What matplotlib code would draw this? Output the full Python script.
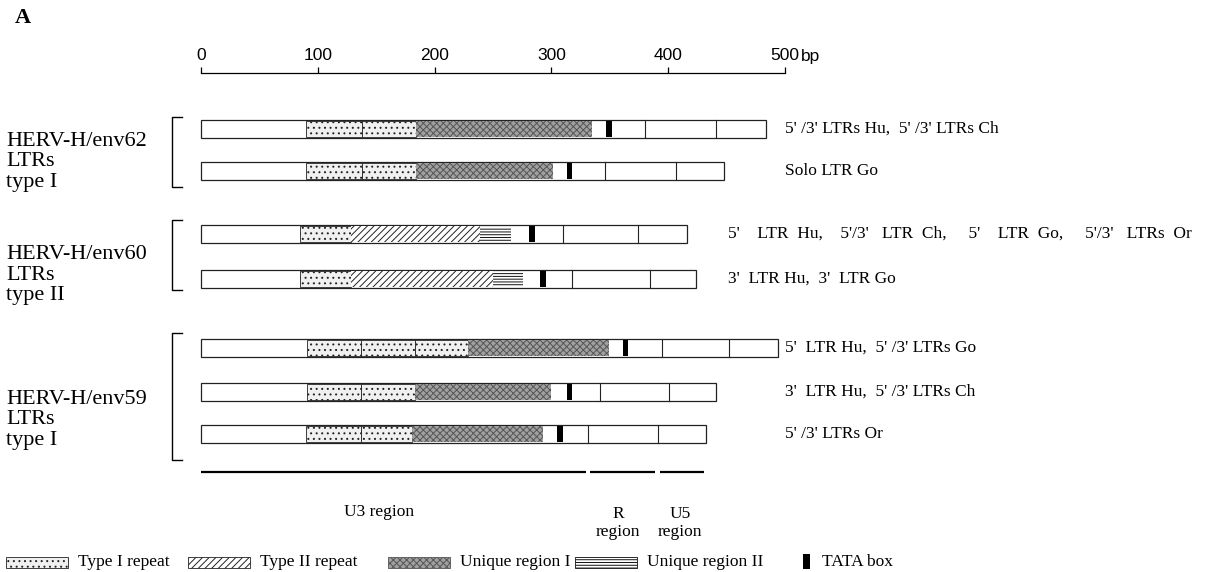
import matplotlib.pyplot as plt
from matplotlib.patches import Rectangle

plt.rcParams['hatch.linewidth'] = 0.7
SERIF = 'Liberation Serif'
SANS = 'Liberation Sans'

# ---- data (bp) ----
ruler_ticks = [0, 100, 200, 300, 400, 500]
ruler_labels = ['0', '100', '200', '300', '400', '500']

row_names = ["5' /3' LTRs Hu,  5' /3' LTRs Ch",
             "Solo LTR Go",
             "5'    LTR  Hu,    5'/3'   LTR  Ch,     5'    LTR  Go,     5'/3'   LTRs  Or",
             "3'  LTR Hu,  3'  LTR Go",
             "5'  LTR Hu,  5' /3' LTRs Go",
             "3'  LTR Hu,  5' /3' LTRs Ch",
             "5' /3' LTRs Or"]
# type I repeat unit boundaries
rep1 = [[90, 138, 184], [90, 138, 184], [85, 128], [85, 128],
        [91, 137, 183, 229], [91, 137, 183], [90, 137, 181]]
# type II repeat (start, end)
rep2 = [None, None, (128, 239), (128, 250), None, None, None]
# unique region I (start, end)
uniq1 = [(184, 335), (184, 301), None, None, (229, 349), (183, 300), (181, 293)]
# unique region II (start, end)
uniq2 = [None, None, (239, 265), (250, 276), None, None, None]
tata = [347, 313, 281, 290, 361, 313, 305]
u3_end = [380, 346, 310, 318, 395, 342, 331]
r_end = [441, 407, 374, 384, 452, 401, 391]
ltr_end = [484, 448, 416, 424, 494, 441, 432]

groups = ["HERV-H/env62\nLTRs\ntype I",
          "HERV-H/env60\nLTRs\ntype II",
          "HERV-H/env59\nLTRs\ntype I"]
regions = ['U3 region', 'R\nregion', 'U5\nregion']
region_spans = [(0, 330), (333, 389), (393, 431)]

legend_names = ['Type I repeat', 'Type II repeat', 'Unique region I',
                'Unique region II', 'TATA box']

# ---- layout (pixels) ----
W, H = 1225, 572
row_y = [129, 171, 234, 279, 348, 392, 434]
bar_h = 18
label_px = [785, 785, 728, 728, 785, 785, 785]
group_y = [162, 275, 420]
bracket_y = [(117, 187), (220, 290), (333, 460)]
region_label_px = [379, 618, 680]

styles = {
    'rep1': dict(facecolor='#f0f0f0', edgecolor='#222222', hatch='...'),
    'rep2': dict(facecolor='white', edgecolor='#222222', hatch='/////'),
    'uniq1': dict(facecolor='#a0a0a0', edgecolor='#555555', hatch='xxxxx'),
    'uniq2': dict(facecolor='white', edgecolor='#111111', hatch='------'),
    'tata': dict(facecolor='black', edgecolor='black'),
}

fig = plt.figure(figsize=(W / 100, H / 100), dpi=100)
X0, X500 = 201, 785
ax = fig.add_axes([X0 / W, 0, (X500 - X0) / W, 1])
ax.set_xlim(0, 500)
ax.set_ylim(H, 0)
ax.axis('off')


def bp(px):
    return (px - X0) * 500 / (X500 - X0)


def box(x1, x2, y, h, **kw):
    ax.add_patch(Rectangle((x1, y - h / 2), x2 - x1, h, clip_on=False, **kw))


# ruler
rax = fig.add_axes([X0 / W, 1 - 73 / H, (X500 - X0) / W, 1e-4])
rax.set_xlim(0, 500)
for s in ['left', 'right', 'bottom']:
    rax.spines[s].set_visible(False)
rax.spines['top'].set_linewidth(0.9)
rax.yaxis.set_visible(False)
rax.xaxis.set_ticks_position('top')
rax.set_xticks(ruler_ticks)
rax.set_xticklabels(ruler_labels, fontsize=12.5, family=SANS)
rax.tick_params(axis='x', direction='out', length=4, width=0.9, pad=3)
rax.patch.set_visible(False)
fig.text(801 / W, 1 - 57 / H, 'bp', va='center', ha='left', fontsize=12.5,
         family=SANS)

for i, y in enumerate(row_y):
    # outline of LTR
    box(0, ltr_end[i], y, bar_h, facecolor='white', edgecolor='#222222', lw=0.9)
    r1 = rep1[i]
    for a, b in zip(r1[:-1], r1[1:]):
        box(a, b, y, bar_h - 2, lw=0.6, **styles['rep1'])
    if rep2[i]:
        box(rep2[i][0], rep2[i][1], y, bar_h - 2, lw=0.0, **styles['rep2'])
    if uniq1[i]:
        box(uniq1[i][0], uniq1[i][1], y, bar_h - 2, lw=0.0, **styles['uniq1'])
    if uniq2[i]:
        box(uniq2[i][0], uniq2[i][1], y, bar_h - 4, lw=0.0, **styles['uniq2'])
    box(tata[i], tata[i] + 5, y, bar_h - 2, lw=0.0, **styles['tata'])
    for d in (u3_end[i], r_end[i]):
        ax.plot([d, d], [y - bar_h / 2, y + bar_h / 2], color='#222222', lw=0.8,
                clip_on=False)
    ax.text(bp(label_px[i]), y, row_names[i], va='center', ha='left',
            fontsize=12.5, family=SERIF)

# group labels and brackets
for g, gy, (b1, b2) in zip(groups, group_y, bracket_y):
    ax.text(bp(6), gy, g, va='center', ha='left', fontsize=16, family=SERIF,
            linespacing=1.1)
    ax.plot([bp(182), bp(172), bp(172), bp(182)], [b1, b1, b2, b2],
            color='black', lw=1.0, clip_on=False)

# region lines
for (a, b), name, lx in zip(region_spans, regions, region_label_px):
    ax.plot([a, b], [472, 472], color='black', lw=1.6, clip_on=False,
            solid_capstyle='butt')
    ax.text(bp(lx), 512 if '\n' not in name else 523, name, ha='center',
            va='center', fontsize=12.5, family=SERIF, linespacing=1.2)

# legend
leg_x = [6, 188, 388, 575]
keys = ['rep1', 'rep2', 'uniq1', 'uniq2']
for name, k, lx in zip(legend_names[:4], keys, leg_x):
    box(bp(lx), bp(lx + 62), 562, 11, lw=0.6, **styles[k])
    ax.text(bp(lx + 72), 562, name, va='center', ha='left', fontsize=12.5,
            family=SERIF)
box(bp(803), bp(810), 561, 15, lw=0, **styles['tata'])
ax.text(bp(822), 562, legend_names[4], va='center', ha='left', fontsize=12.5,
        family=SERIF)

fig.text(15 / W, 1 - 18 / H, 'A', fontsize=16, fontweight='bold', family=SERIF,
         va='center', ha='left')

fig.savefig('out.png', dpi=100)
